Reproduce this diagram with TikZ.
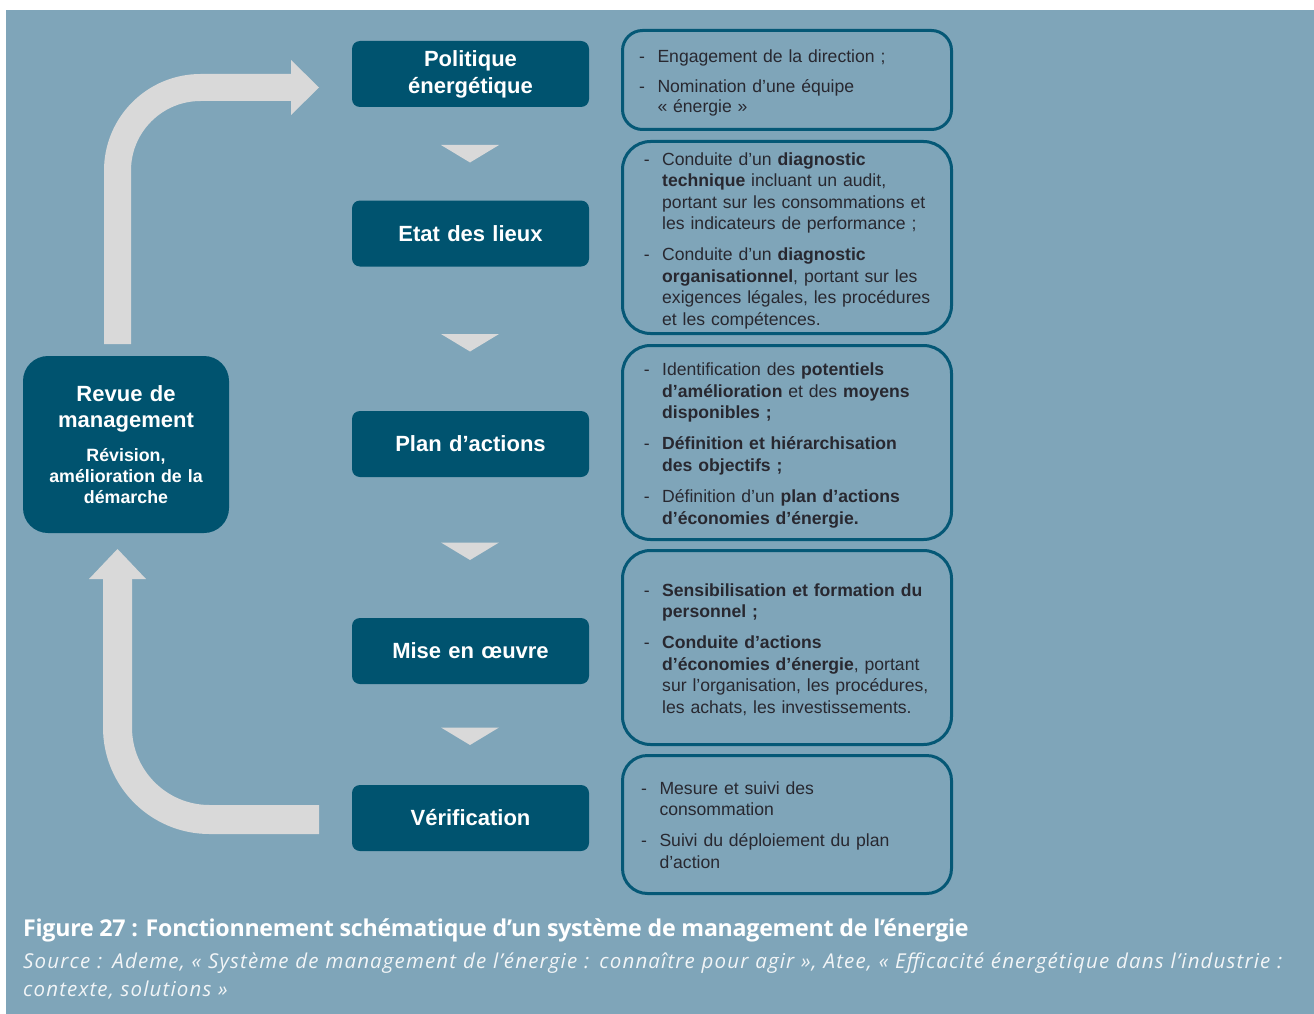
\documentclass[tikz,border=0pt]{standalone}
\usepackage{fontspec}
\setmainfont{Liberation Sans}
\newfontfamily\capfont[LetterSpace=-1.2]{Open Sans}
\newfontfamily\srcfont[LetterSpace=5.6]{Open Sans}
\usetikzlibrary{calc}

\definecolor{bgblue}{HTML}{7FA5B9}
\definecolor{boxblue}{HTML}{00536F}
\definecolor{frameblue}{HTML}{055876}
\definecolor{arrowgray}{HTML}{D9D9D9}
\definecolor{bodytext}{HTML}{282830}
\definecolor{srctext}{HTML}{F2F5F7}

% dash in front of each list entry, hanging in the left margin
\newcommand{\dashitem}{\leavevmode\llap{-\hspace{12.5pt}}}

\begin{document}
\begin{tikzpicture}[x=1pt,y=-1pt,
  stage/.style={fill=boxblue, rounded corners=8pt, minimum width=237pt,
    minimum height=66pt, text width=237pt, inner sep=0pt, align=center,
    text=white, font=\fontsize{22}{27}\selectfont\bfseries},
  infobox/.style={draw=frameblue, line width=3pt, minimum width=329pt,
    inner sep=0pt},
  infotext/.style={anchor=base west, align=left, text=bodytext,
    text width=300pt, inner sep=0pt, font=\fontsize{17.6}{21.4}\selectfont},
  bigarrow/.style={draw=arrowgray, line width=27pt},
  chev/.style={fill=arrowgray}
]
\useasboundingbox (0,0) rectangle (1314,1014);
\fill[white] (0,0) rectangle (1314,1014);
\fill[bgblue] (6,10) rectangle (1314,1014);

% loop arrows on the left
\coordinate (upfoot) at (117.5,344);
\coordinate (upend) at (292,87.5);
\draw[bigarrow, rounded corners=83pt] (upfoot) |- (upend);
\fill[arrowgray] (291,60) -- (319,87.5) -- (291,115) -- cycle;

\coordinate (lowfoot) at (319,819.5);
\coordinate (lowend) at (117.5,578);
\draw[bigarrow, line width=29pt, rounded corners=92pt] (lowfoot) -| (lowend);
\fill[arrowgray] (89,579) -- (117.5,549) -- (146,579) -- cycle;

% chevrons between the stages
\foreach \cy [count=\i] in {145,334,542.5,727.5}
  \fill[chev] (441,\cy) -- (499,\cy) -- (470,\cy+17.5) -- cycle;

% stages
\node[stage] (pol) at (470.5,74) {Politique\\énergétique};
\node[stage] (etat) at (470.5,233.5) {Etat des lieux};
\node[stage] (plan) at (470.5,444) {Plan d’actions};
\node[stage] (mise) at (470.5,651) {Mise en œuvre};
\node[stage] (verif) at (470.5,818) {Vérification};

% management review
\node[fill=boxblue, rounded corners=25pt, minimum width=206pt,
  minimum height=177pt, inner sep=0pt] (revue) at (126,444.5) {};
\node[anchor=base, text width=200pt, align=center, inner sep=0pt, text=white,
  font=\fontsize{22}{25.3}\selectfont\bfseries] (revuetitle) at (126,401.7)
  {Revue de\\management};
\node[anchor=base, text width=200pt, align=center, inner sep=0pt, text=white,
  font=\fontsize{17.8}{20.8}\selectfont\bfseries] (revuesub) at (126,461.7)
  {Révision,\\amélioration de la\\démarche};

% detail boxes
\node[infobox, rounded corners=20pt, minimum height=99pt] (b1) at (787,80) {};
\node[infobox, rounded corners=28pt, minimum height=192pt] (b2) at (787,237.5) {};
\node[infobox, rounded corners=28pt, minimum height=194pt] (b3) at (787,442.5) {};
\node[infobox, rounded corners=28pt, minimum height=194pt] (b4) at (787,647.5) {};
\node[infobox, rounded corners=25pt, minimum height=138pt] (b5) at (787,824.5) {};

\node[infotext, font=\fontsize{17.6}{20}\selectfont] (t1) at (657.3,62.7)
  {\dashitem Engagement de la direction ;\\[10pt]
   \dashitem Nomination d’une équipe\\
   «~énergie~»};

\node[infotext] (t2) at (662,165.3)
  {\dashitem Conduite d’un \textbf{diagnostic}\\
   \textbf{technique} incluant un audit,\\
   portant sur les consommations et\\
   les indicateurs de performance ;\\[10pt]
   \dashitem Conduite d’un \textbf{diagnostic}\\
   \textbf{organisationnel}, portant sur les\\
   exigences légales, les procédures\\
   et les compétences.};

\node[infotext] (t3) at (662,375.7)
  {\dashitem Identification des \textbf{potentiels}\\
   \textbf{d’amélioration} et des \textbf{moyens}\\
   \textbf{disponibles ;}\\[10pt]
   \dashitem \textbf{Définition et hiérarchisation}\\
   \textbf{des objectifs ;}\\[10pt]
   \dashitem Définition d’un \textbf{plan d’actions}\\
   \textbf{d’économies d’énergie.}};

\node[infotext] (t4) at (662,596)
  {\dashitem \textbf{Sensibilisation et formation du}\\
   \textbf{personnel ;}\\[10pt]
   \dashitem \textbf{Conduite d’actions}\\
   \textbf{d’économies d’énergie}, portant\\
   sur l’organisation, les procédures,\\
   les achats, les investissements.};

\node[infotext] (t5) at (659.3,794)
  {\dashitem Mesure et suivi des\\
   consommation\\[10pt]
   \dashitem Suivi du déploiement du plan\\
   d’action};

% caption
\node[anchor=base west, inner sep=0pt, text=white,
  font=\capfont\bfseries\fontsize{23.2}{28}\selectfont] (figcap) at (23,936.7)
  {Figure 27 : Fonctionnement schématique d’un système de management de l’énergie};
\node[anchor=base west, inner sep=0pt, text width=1400pt, align=left, text=srctext,
  font=\srcfont\itshape\fontsize{20.5}{28.4}\selectfont] (figsrc) at (23,968.3)
  {Source : Ademe, « Système de management de l’énergie : connaître pour agir », Atee, « Efficacité énergétique dans l’industrie :\\
   contexte, solutions »};
\end{tikzpicture}
\end{document}
